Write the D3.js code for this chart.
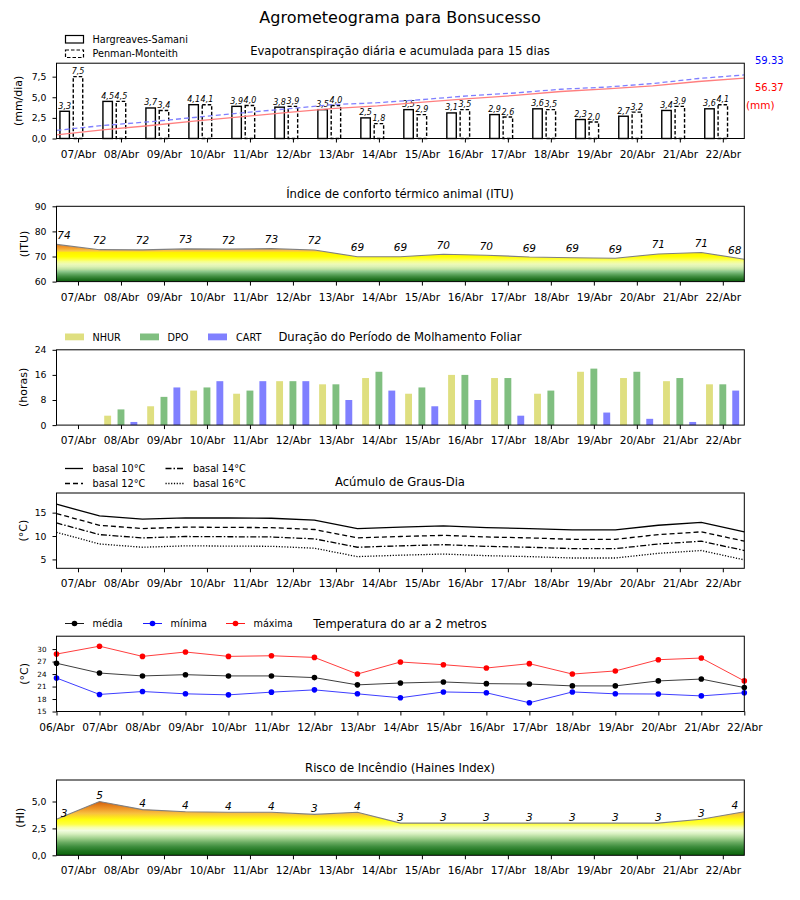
<!DOCTYPE html>
<html><head><meta charset="utf-8">
<script src="https://cdn.jsdelivr.net/npm/d3@7"></script>
<style>body{margin:0;background:#fff} text{font-family:"DejaVu Sans",sans-serif}</style>
</head><body><svg id="c" width="800" height="900"></svg>
<script>
// ---------- data ----------
const barDates = ["2021-04-07 00","2021-04-08 00","2021-04-09 00","2021-04-10 00","2021-04-11 00","2021-04-12 00","2021-04-13 00","2021-04-14 00","2021-04-15 00","2021-04-16 00","2021-04-17 00","2021-04-18 00","2021-04-19 00","2021-04-20 00","2021-04-21 00","2021-04-22 00"];
const midDates = ["2021-04-06 12","2021-04-07 12","2021-04-08 12","2021-04-09 12","2021-04-10 12","2021-04-11 12","2021-04-12 12","2021-04-13 12","2021-04-14 12","2021-04-15 12","2021-04-16 12","2021-04-17 12","2021-04-18 12","2021-04-19 12","2021-04-20 12","2021-04-21 12","2021-04-22 12"];
const tempDates = ["2021-04-06 00","2021-04-07 00","2021-04-08 00","2021-04-09 00","2021-04-10 00","2021-04-11 00","2021-04-12 00","2021-04-13 00","2021-04-14 00","2021-04-15 00","2021-04-16 00","2021-04-17 00","2021-04-18 00","2021-04-19 00","2021-04-20 00","2021-04-21 00","2021-04-22 00"];
const tickLabels = ["07/Abr","08/Abr","09/Abr","10/Abr","11/Abr","12/Abr","13/Abr","14/Abr","15/Abr","16/Abr","17/Abr","18/Abr","19/Abr","20/Abr","21/Abr","22/Abr"];
const tempTickLabels = ["06/Abr","07/Abr","08/Abr","09/Abr","10/Abr","11/Abr","12/Abr","13/Abr","14/Abr","15/Abr","16/Abr","17/Abr","18/Abr","19/Abr","20/Abr","21/Abr","22/Abr"];

const hargreaves = [3.3,4.5,3.7,4.1,3.9,3.8,3.5,2.5,3.5,3.1,2.9,3.6,2.3,2.7,3.4,3.6];
const penman     = [7.5,4.5,3.4,4.1,4.0,3.9,4.0,1.8,2.9,3.5,2.6,3.5,2.0,3.2,3.9,4.1];
const hargCum    = [3.4,8.1,11.9,16.2,20.2,24.1,27.8,30.4,34.0,37.2,40.2,43.9,46.3,49.1,53.2,56.37];
const penCum     = [7.6,12.1,15.5,19.6,23.7,27.6,31.6,33.4,36.4,39.9,42.5,46.0,48.0,51.3,56.0,59.33];

const itu = [74.8,72.7,72.6,73.0,72.9,73.1,72.6,69.9,69.9,70.9,70.5,69.8,69.5,69.3,71.0,71.6,68.9];

const nhur = [0,3,6,11,10,14,13,15,10,16,15,10,17,15,14,13];
const dpo  = [0,5,9,12,11,14,13,17,12,16,15,11,18,17,15,13];
const cart = [0,1,12,14,14,14,8,11,6,8,3,0,4,2,1,11];

const gd10 = [16.8,14.3,13.6,13.9,13.85,13.8,13.4,11.6,11.9,12.15,11.8,11.6,11.3,11.3,12.3,12.9,10.9];
const gd12 = [14.8,12.3,11.6,11.9,11.85,11.8,11.4,9.6,9.9,10.15,9.8,9.6,9.3,9.3,10.3,10.9,8.9];
const gd14 = [12.8,10.3,9.6,9.9,9.85,9.8,9.4,7.6,7.9,8.15,7.8,7.6,7.3,7.3,8.3,8.9,6.9];
const gd16 = [10.8,8.3,7.6,7.9,7.85,7.8,7.4,5.6,5.9,6.15,5.8,5.6,5.3,5.3,6.3,6.9,4.9];

const tmed = [26.6,24.25,23.55,23.85,23.55,23.55,23.15,21.4,21.85,22.1,21.7,21.6,21.15,21.15,22.35,22.8,20.75];
const tmin = [23.05,19.1,19.8,19.25,19.0,19.65,20.2,19.25,18.3,19.7,19.5,17.1,19.7,19.25,19.2,18.75,19.5];
const tmax = [28.8,30.7,28.25,29.3,28.25,28.4,28.0,24.0,26.9,26.25,25.45,26.5,24.0,24.75,27.45,27.85,22.35];

const haines = [3.35,5.0,4.25,4.05,4.0,4.0,3.8,4.0,3.0,3.0,3.0,3.0,3.0,3.0,3.0,3.35,4.05];

// ---------- layout ----------
const svg = d3.select("#c");
const L = 56.5, R = 744.3, H = 75.3;
const tops = [63.2, 206.3, 349.8, 493.0, 636.2, 780.0];
const parse = d3.timeParse("%Y-%m-%d %H");
const bD = barDates.map(parse), mD = midDates.map(parse), tD = tempDates.map(parse);
const off = (d, f) => new Date(+d + f*864e5);
const x = d3.scaleTime().domain([mD[0], mD[mD.length-1]]).range([L, R]);
const xT = d3.scaleTime().domain([tD[0], tD[tD.length-1]]).range([L, R]);
const comma = d => d.toFixed(1).replace(".", ",");

function xAxis(scale, vals, labels, top){
  const g = svg.append("g").attr("transform",`translate(0,${top+H})`)
    .call(d3.axisBottom(scale).tickValues(vals).tickSize(4).tickPadding(7.5).tickFormat((d,i)=>labels[i]));
  g.select(".domain").remove();
  g.attr("font-size",10.6).attr("font-family","DejaVu Sans");
  g.selectAll("text").attr("fill","#000");
  g.selectAll("line").attr("stroke","#000");
}
function yAxis(scale, vals, fmt, fs){
  const g = svg.append("g").attr("transform",`translate(${L},0)`)
    .call(d3.axisLeft(scale).tickValues(vals).tickSize(4).tickPadding(6).tickFormat(fmt));
  g.select(".domain").remove();
  g.attr("font-size",fs||9.3).attr("font-family","DejaVu Sans");
  g.selectAll("text").attr("fill","#000");
  g.selectAll("line").attr("stroke","#000");
}
function frame(top){
  svg.append("rect").attr("x",L).attr("y",top).attr("width",R-L).attr("height",H)
    .attr("fill","none").attr("stroke","#000").attr("stroke-width",1);
}
function title(t, y){
  svg.append("text").attr("x",400).attr("y",y).attr("text-anchor","middle").attr("font-size",11.6).text(t);
}
function ylabel(t, xb, top){
  svg.append("text").attr("transform",`translate(${xb},${top+H/2}) rotate(-90)`)
    .attr("text-anchor","middle").attr("font-size",11).text(t);
}
function legText(t, xx, yy){
  svg.append("text").attr("x",xx).attr("y",yy).attr("font-size",9.7).text(t);
}
const clampLab = v => Math.max(L+7.5, Math.min(R-9.5, v));

svg.append("text").attr("x",400).attr("y",23).attr("text-anchor","middle").attr("font-size",16).text("Agrometeograma para Bonsucesso");

// ---------- Panel 1 ----------
{
  const top = tops[0];
  const y = d3.scaleLinear().domain([0, 9.13]).range([top+H, top]);
  const y2 = d3.scaleLinear().domain([0, 70.3]).range([top+H, top]);
  const xp = d3.scalePoint().domain(d3.range(hargCum.length)).range([L, R]);
  const bw = 0.22;
  const gB = svg.append("g");
  hargreaves.forEach((v,i)=>{
    const x0 = x(off(bD[i], -0.31-bw/2)), x1 = x(off(bD[i], -0.31+bw/2));
    gB.append("rect").attr("x",x0).attr("y",y(v)).attr("width",x1-x0).attr("height",y(0)-y(v))
      .attr("fill","none").attr("stroke","#000").attr("stroke-width",1.4);
    gB.append("text").attr("x",(x0+x1)/2).attr("y",y(v)-2.5).attr("text-anchor","middle")
      .attr("font-size",8).attr("font-style","italic").text(comma(v));
  });
  penman.forEach((v,i)=>{
    const x0 = x(off(bD[i], -bw/2)), x1 = x(off(bD[i], bw/2));
    gB.append("rect").attr("x",x0).attr("y",y(v)).attr("width",x1-x0).attr("height",y(0)-y(v))
      .attr("fill","none").attr("stroke","#000").attr("stroke-width",1.4).attr("stroke-dasharray","3.5,2");
    gB.append("text").attr("x",(x0+x1)/2).attr("y",y(v)-2.5).attr("text-anchor","middle")
      .attr("font-size",8).attr("font-style","italic").text(comma(v));
  });
  const ln = d3.line().x((d,i)=>xp(i)).y(d=>y2(d));
  svg.append("path").attr("d",ln(hargCum)).attr("fill","none").attr("stroke","#ff7f7f").attr("stroke-width",1.3);
  svg.append("path").attr("d",ln(penCum)).attr("fill","none").attr("stroke","#7f7fff").attr("stroke-width",1.3).attr("stroke-dasharray","5,3");
  svg.append("text").attr("x",755).attr("y",64).attr("font-size",10).attr("fill","#0000ff").text(penCum[penCum.length-1].toFixed(2));
  svg.append("text").attr("x",755).attr("y",90.5).attr("font-size",10).attr("fill","#ff0000").text(hargCum[hargCum.length-1].toFixed(2));
  svg.append("text").attr("x",746).attr("y",109).attr("font-size",10.5).attr("fill","#ff0000").text("(mm)");
  yAxis(y, [0,2.5,5,7.5], comma);
  xAxis(x, bD, tickLabels, top);
  frame(top);
  title("Evapotranspiração diária e acumulada para 15 dias", 55);
  ylabel("(mm/dia)", 22, top);
  svg.append("rect").attr("x",65.5).attr("y",35.5).attr("width",18).attr("height",7.5).attr("fill","none").attr("stroke","#000").attr("stroke-width",1.2);
  svg.append("rect").attr("x",65.5).attr("y",50).attr("width",18).attr("height",7.5).attr("fill","none").attr("stroke","#000").attr("stroke-width",1.2).attr("stroke-dasharray","3.5,2");
  legText("Hargreaves-Samani", 92.5, 42.5);
  legText("Penman-Monteith", 92.5, 57);
}

// ---------- Panel 2 (ITU) ----------
{
  const top = tops[1];
  const y = d3.scaleLinear().domain([60, 90]).range([top+H, top]);
  const stops = [[60,"#0b5e0b"],[61,"#237323"],[62,"#3f8c3f"],[63,"#62a862"],[64,"#8cc68a"],[65,"#bfe2a2"],[66,"#dcf2b4"],[67,"#eefab8"],[68,"#f6ff88"],[69,"#ffff38"],[70,"#ffff00"],[71.6,"#fff000"],[72.2,"#f9c845"],[73,"#f5aa38"],[74,"#ee8f26"],[76,"#e07010"],[90,"#c03000"]];
  const gr = svg.append("defs").append("linearGradient").attr("id","gITU").attr("gradientUnits","userSpaceOnUse")
    .attr("x1",0).attr("x2",0).attr("y1",y(60)).attr("y2",y(90));
  stops.forEach(s=>gr.append("stop").attr("offset",(s[0]-60)/30).attr("stop-color",s[1]));
  const area = d3.area().x((d,i)=>x(mD[i])).y0(y(60)).y1(d=>y(d));
  svg.append("path").attr("d",area(itu)).attr("fill","url(#gITU)");
  svg.append("path").attr("d",d3.line().x((d,i)=>x(mD[i])).y(d=>y(d))(itu)).attr("fill","none").attr("stroke","#808080").attr("stroke-width",1.2);
  itu.forEach((v,i)=>{
    svg.append("text").attr("x",clampLab(x(mD[i]))).attr("y",y(v)-5.5).attr("text-anchor","middle")
      .attr("font-size",10.5).attr("font-style","italic").text(Math.floor(v));
  });
  yAxis(y, [60,70,80,90], d3.format("d"));
  xAxis(x, bD, tickLabels, top);
  frame(top);
  title("Índice de conforto térmico animal (ITU)", 198);
  ylabel("(ITU)", 27.5, top);
}

// ---------- Panel 3 (Molhamento) ----------
{
  const top = tops[2];
  const y = d3.scaleLinear().domain([0, 24]).range([top+H, top]);
  const bw = 0.16;
  const series = [[nhur,-0.31,"#dfdf80"],[dpo,0,"#80bf80"],[cart,0.3,"#8080ff"]];
  series.forEach(([arr,o,c])=>{
    arr.forEach((v,i)=>{
      if(v<=0) return;
      const x0 = x(off(bD[i], o-bw/2)), x1 = x(off(bD[i], o+bw/2));
      svg.append("rect").attr("x",x0).attr("y",y(v)).attr("width",x1-x0).attr("height",y(0)-y(v)).attr("fill",c);
    });
  });
  yAxis(y, [0,8,16,24], d3.format("d"));
  xAxis(x, bD, tickLabels, top);
  frame(top);
  title("Duração do Período de Molhamento Foliar", 341);
  ylabel("(horas)", 27, top);
  const leg = [["NHUR",65,92.5,"#dfdf80"],["DPO",140,167.5,"#80bf80"],["CART",208,236,"#8080ff"]];
  leg.forEach(([t,px,tx,c])=>{
    svg.append("rect").attr("x",px).attr("y",333.5).attr("width",19).attr("height",6.8).attr("fill",c);
    legText(t, tx, 340.5);
  });
}

// ---------- Panel 4 (Graus-dia) ----------
{
  const top = tops[3];
  const y = d3.scaleLinear().domain([3.1, 19.2]).range([top+H, top]);
  const ln = d3.line().x((d,i)=>x(mD[i])).y(d=>y(d));
  const styles = [[gd10,null],[gd12,"5,3"],[gd14,"6,2,1.5,2"],[gd16,"1.2,1.6"]];
  styles.forEach(([arr,da])=>{
    const p = svg.append("path").attr("d",ln(arr)).attr("fill","none").attr("stroke","#000").attr("stroke-width",1.3);
    if(da) p.attr("stroke-dasharray",da);
  });
  yAxis(y, [5,10,15], d3.format("d"));
  xAxis(x, bD, tickLabels, top);
  frame(top);
  title("Acúmulo de Graus-Dia", 486);
  ylabel("(°C)", 27, top);
  const leg = [["basal 10°C",65,468.5,null],["basal 12°C",65,483.5,"5,3"],["basal 14°C",165.5,468.5,"6,2,1.5,2"],["basal 16°C",165.5,483.5,"1.2,1.6"]];
  leg.forEach(([t,lx,ly,da])=>{
    const p = svg.append("line").attr("x1",lx).attr("x2",lx+18).attr("y1",ly).attr("y2",ly).attr("stroke","#000").attr("stroke-width",1.3);
    if(da) p.attr("stroke-dasharray",da);
    legText(t, lx+27.5, ly+3.5);
  });
}

// ---------- Panel 5 (Temperatura) ----------
{
  const top = tops[4];
  const y = d3.scaleLinear().domain([15, 33.1]).range([top+H, top]);
  const ln = d3.line().x((d,i)=>xT(tD[i])).y(d=>y(d));
  const ser = [[tmed,"#000"],[tmin,"#0000ff"],[tmax,"#ff0000"]];
  ser.forEach(([arr,c])=>{
    svg.append("path").attr("d",ln(arr)).attr("fill","none").attr("stroke",c).attr("stroke-width",0.9).attr("stroke-opacity",0.85);
    arr.forEach((v,i)=>svg.append("circle").attr("cx",xT(tD[i])).attr("cy",y(v)).attr("r",2.8).attr("fill",c));
  });
  yAxis(y, [15,18,21,24,27,30], d3.format("d"), 7.2);
  xAxis(xT, tD, tempTickLabels, top);
  frame(top);
  title("Temperatura do ar a 2 metros", 627.5);
  ylabel("(°C)", 28, top);
  const leg = [["média",65,"#000"],["mínima",143,"#0000ff"],["máxima",226,"#ff0000"]];
  leg.forEach(([t,lx,c])=>{
    svg.append("line").attr("x1",lx).attr("x2",lx+19).attr("y1",623.5).attr("y2",623.5).attr("stroke",c).attr("stroke-width",0.9);
    svg.append("circle").attr("cx",lx+9.5).attr("cy",623.5).attr("r",2.8).attr("fill",c);
    legText(t, lx+27.5, 627);
  });
}

// ---------- Panel 6 (Haines) ----------
{
  const top = tops[5];
  const y = d3.scaleLinear().domain([0, 7]).range([top+H, top]);
  const stops = [[0,"#0a640a"],[0.4,"#1f751f"],[0.8,"#3d8d3d"],[1.2,"#6aac62"],[1.6,"#a3d28f"],[2.0,"#d8f0c0"],[2.3,"#f2fde0"],[2.6,"#f8ffa8"],[2.9,"#ffff40"],[3.3,"#ffff10"],[3.6,"#fde020"],[3.9,"#f8c040"],[4.3,"#ef9a2a"],[4.7,"#e07818"],[5.0,"#d05a10"],[7,"#b03000"]];
  const gr = svg.append("defs").append("linearGradient").attr("id","gHI").attr("gradientUnits","userSpaceOnUse")
    .attr("x1",0).attr("x2",0).attr("y1",y(0)).attr("y2",y(7));
  stops.forEach(s=>gr.append("stop").attr("offset",s[0]/7).attr("stop-color",s[1]));
  const area = d3.area().x((d,i)=>x(mD[i])).y0(y(0)).y1(d=>y(d));
  svg.append("path").attr("d",area(haines)).attr("fill","url(#gHI)");
  svg.append("path").attr("d",d3.line().x((d,i)=>x(mD[i])).y(d=>y(d))(haines)).attr("fill","none").attr("stroke","#808080").attr("stroke-width",1.2);
  haines.forEach((v,i)=>{
    svg.append("text").attr("x",clampLab(x(mD[i]))).attr("y",y(v)-2.5).attr("text-anchor","middle")
      .attr("font-size",10.5).attr("font-style","italic").text(Math.floor(v));
  });
  yAxis(y, [0,2.5,5], comma);
  xAxis(x, bD, tickLabels, top);
  frame(top);
  title("Risco de Incêndio (Haines Index)", 771.5);
  ylabel("(HI)", 24, top);
}
</script></body></html>
